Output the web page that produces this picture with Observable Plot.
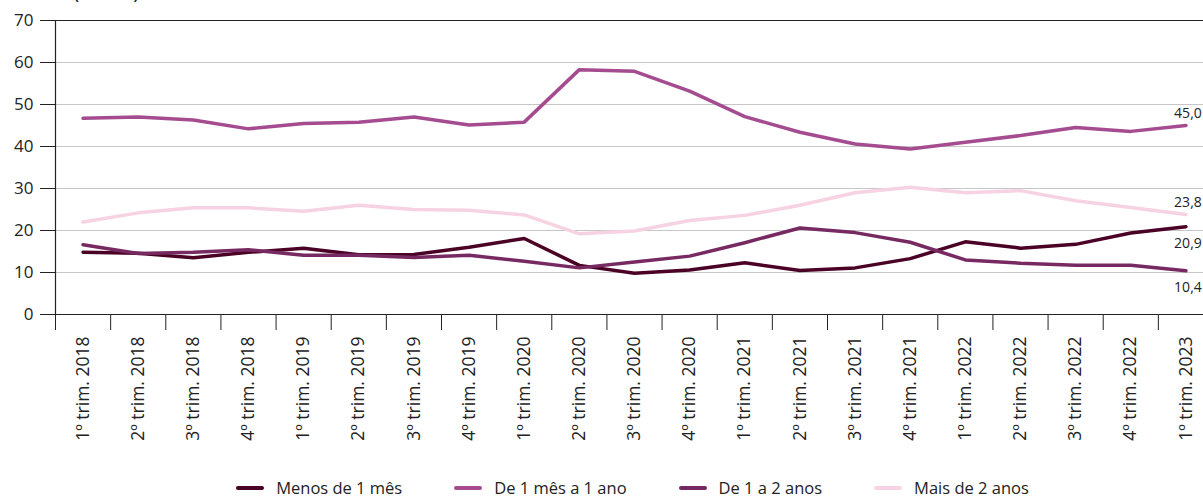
<!DOCTYPE html>
<html>
<head>
<meta charset="utf-8">
<script src="https://cdn.jsdelivr.net/npm/d3@7"></script>
<script src="https://cdn.jsdelivr.net/npm/@observablehq/plot@0.6"></script>
<style>
  html, body { margin: 0; padding: 0; background: #fff; overflow: hidden; }
  body { width: 1203px; height: 497px; position: relative; font-family: "Open Sans", "Noto Sans", sans-serif; color: #222; }
  #title { position: absolute; top: -23px; left: 73px; font-size: 21px; color: #222; }
  #chart { position: absolute; top: 0; left: 0; }
  #legend { position: absolute; top: 476px; left: 62px; width: 1141px; display: flex; justify-content: center; gap: 52px; font-size: 16.5px; color: #222; }
  .item { display: flex; align-items: center; gap: 12px; }
  .sw { width: 28px; height: 4px; border-radius: 2px; }
</style>
</head>
<body>
<div id="title">(em %)</div>
<div id="chart"></div>
<div id="legend"></div>
<script>
const quarters = [
  "1º trim. 2018","2º trim. 2018","3º trim. 2018","4º trim. 2018",
  "1º trim. 2019","2º trim. 2019","3º trim. 2019","4º trim. 2019",
  "1º trim. 2020","2º trim. 2020","3º trim. 2020","4º trim. 2020",
  "1º trim. 2021","2º trim. 2021","3º trim. 2021","4º trim. 2021",
  "1º trim. 2022","2º trim. 2022","3º trim. 2022","4º trim. 2022",
  "1º trim. 2023"
];
const seriesNames = ["Menos de 1 mês", "De 1 mês a 1 ano", "De 1 a 2 anos", "Mais de 2 anos"];
const seriesColors = ["#4b0026", "#a44c8f", "#772a62", "#f7d2e2"];

const menos1mes = [14.8, 14.6, 13.5, 14.8, 15.8, 14.2, 14.3, 16.0, 18.1, 11.7, 9.8, 10.6, 12.3, 10.5, 11.1, 13.3, 17.3, 15.8, 16.7, 19.4, 20.9];
const de1mesA1ano = [46.7, 47.0, 46.3, 44.2, 45.5, 45.8, 47.0, 45.1, 45.8, 58.3, 57.9, 53.2, 47.1, 43.4, 40.6, 39.4, 41.0, 42.6, 44.5, 43.6, 45.0];
const de1a2anos = [16.6, 14.5, 14.8, 15.4, 14.1, 14.1, 13.6, 14.1, 12.7, 11.1, 12.5, 13.9, 17.1, 20.6, 19.5, 17.2, 13.0, 12.2, 11.7, 11.7, 10.4];
const mais2anos = [22.0, 24.2, 25.4, 25.4, 24.6, 26.0, 25.0, 24.8, 23.7, 19.2, 19.9, 22.4, 23.6, 26.0, 29.0, 30.3, 29.0, 29.5, 27.1, 25.5, 23.8];
const yTicks = [0, 10, 20, 30, 40, 50, 60, 70];

const allSeries = [menos1mes, de1mesA1ano, de1a2anos, mais2anos];
const data = [];
allSeries.forEach((vals, s) => vals.forEach((v, i) => data.push({i, v, serie: seriesNames[s]})));
const last = allSeries.map((vals, s) => ({i: vals.length - 1, v: vals[vals.length - 1], serie: seriesNames[s]}));
const labelAbove = last.filter(d => d.serie === "De 1 mês a 1 ano" || d.serie === "Mais de 2 anos");
const labelBelow = last.filter(d => d.serie === "Menos de 1 mês" || d.serie === "De 1 a 2 anos");
const fmt = v => v.toFixed(1).replace(".", ",");
const boundaries = d3.range(-0.5, quarters.length, 1);

const chart = Plot.plot({
  width: 1203,
  height: 455,
  marginLeft: 55,
  marginRight: 0,
  marginTop: 20,
  marginBottom: 141,
  style: {fontFamily: "'Open Sans', 'Noto Sans', sans-serif", color: "#222", background: "transparent"},
  x: {type: "linear", domain: [-0.5, quarters.length - 0.5], range: [55, 1213], axis: null},
  y: {domain: [0, 70], axis: null},
  color: {domain: seriesNames, range: seriesColors},
  marks: [
    Plot.ruleY(yTicks.filter(t => t > 0 && t < 70), {stroke: "#c6c6c6", strokeWidth: 1}),
    Plot.ruleY([70], {stroke: "#222", strokeWidth: 1.2}),
    Plot.axisY({ticks: yTicks, label: null, tickSize: 15, tickPadding: 7, fontSize: 17, stroke: "#222", tickFormat: d => d}),
    Plot.axisX({ticks: boundaries, label: null, tickSize: 16, tickFormat: () => "", stroke: "#222"}),
    Plot.axisX({ticks: d3.range(quarters.length), label: null, tickSize: 0, tickPadding: 22, tickRotate: -90, fontSize: 17.5, tickFormat: i => quarters[i]}),
    Plot.ruleY([0], {stroke: "#222", strokeWidth: 1.2}),
    Plot.ruleX([-0.5], {y1: 0, y2: 70, stroke: "#222", strokeWidth: 1.2}),
    Plot.line(data, {x: "i", y: "v", z: "serie", stroke: "serie", strokeWidth: 3.5, curve: "linear"}),
    Plot.text(labelAbove, {x: "i", y: "v", text: d => fmt(d.v), dy: -12, dx: 2, fontSize: 14, fill: "#222"}),
    Plot.text(labelBelow, {x: "i", y: "v", text: d => fmt(d.v), dy: 17, dx: 2, fontSize: 14, fill: "#222"})
  ]
});
document.getElementById("chart").appendChild(chart);

const legend = document.getElementById("legend");
seriesNames.forEach((name, k) => {
  const it = document.createElement("div");
  it.className = "item";
  const sw = document.createElement("div");
  sw.className = "sw";
  sw.style.background = seriesColors[k];
  const tx = document.createElement("span");
  tx.textContent = name;
  it.appendChild(sw);
  it.appendChild(tx);
  legend.appendChild(it);
});
</script>
</body>
</html>
